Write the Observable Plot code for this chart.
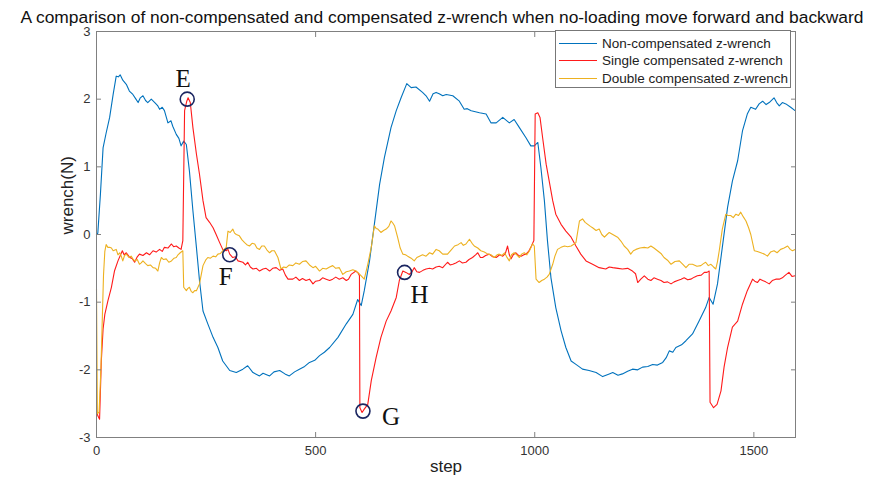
<!DOCTYPE html>
<html>
<head>
<meta charset="utf-8">
<script src="https://cdn.jsdelivr.net/npm/d3@7"></script>
<script src="https://cdn.jsdelivr.net/npm/@observablehq/plot@0.6"></script>
<style>
  body { margin: 0; background: #fff; }
  #wrap { position: relative; width: 876px; height: 481px; font-family: "Liberation Sans", Arial, sans-serif; }
  #legend { position: absolute; left: 555px; top: 30px; width: 236px; height: 58px; border: 1px solid #777; background: #fff; box-sizing: border-box; font-size: 13.5px; color: #222; }
  .row { position: absolute; left: 3px; height: 16px; display: flex; align-items: center; }
  .row span.sw { display: inline-block; width: 38px; height: 0; border-top: 1px solid; margin-right: 5px; }
</style>
</head>
<body>
<div id="wrap"><div id="legend"></div></div>
<script>
const titleText = "A comparison of non-compensated and compensated z-wrench when no-loading move forward and backward";
const xLabel = "step";
const yLabel = "wrench(N)";
const xTicks = [0, 500, 1000, 1500];
const yTicks = [-3, -2, -1, 0, 1, 2, 3];
const seriesNames = ["Non-compensated z-wrench", "Single compensated z-wrench", "Double compensated z-wrench"];
const seriesColors = ["#0072BD", "#FF1A1A", "#EDB120"];

const nonCompStep = [0,3,9,15,22,30,38,45,50,54,60,68,75,83,90,95,100,106,112,117,125,133,140,144,150,155,163,170,174,182,188,193,199,205,212,220,228,235,243,254,266,277,288,304,319,334,345,357,372,380,395,405,418,430,440,452,463,475,486,498,509,520,532,551,570,585,596,604,611,623,634,646,657,672,684,695,708,718,729,744,752,760,768,775,782,790,798,813,828,839,846,855,874,889,900,912,927,942,953,965,980,991,999,1007,1014,1022,1029,1037,1048,1060,1071,1083,1094,1109,1124,1140,1155,1170,1178,1190,1200,1212,1223,1235,1246,1258,1269,1280,1292,1300,1307,1315,1322,1335,1345,1360,1375,1390,1398,1407,1417,1428,1440,1451,1463,1474,1485,1493,1504,1512,1520,1528,1535,1546,1552,1558,1565,1573,1584,1594];
const nonCompWrench = [0,0.02,0.6,1.28,1.5,1.73,2.07,2.34,2.33,2.36,2.28,2.22,2.12,2.07,2.0,1.95,2.02,2.05,1.98,1.95,2.0,1.95,1.9,1.85,1.88,1.83,1.65,1.68,1.6,1.48,1.42,1.31,1.38,1.33,0.94,0.35,-0.19,-0.68,-1.13,-1.32,-1.52,-1.67,-1.87,-2.01,-2.04,-1.99,-1.94,-2.04,-2.09,-2.05,-2.09,-2.03,-2.01,-2.06,-2.09,-2.03,-1.99,-1.95,-1.89,-1.86,-1.79,-1.74,-1.67,-1.52,-1.32,-1.18,-0.96,-1.05,-0.83,-0.39,0.15,0.74,1.14,1.58,1.83,2.02,2.23,2.17,2.18,2.10,2.05,1.97,2.08,2.10,2.08,2.05,2.07,2.05,1.97,1.85,1.86,1.83,1.80,1.78,1.65,1.65,1.73,1.65,1.70,1.58,1.43,1.31,1.31,1.36,0.99,0.50,-0.09,-0.64,-1.08,-1.42,-1.67,-1.87,-1.92,-1.99,-2.01,-2.04,-2.10,-2.06,-2.04,-2.08,-2.06,-2.02,-1.99,-2.0,-1.96,-1.95,-1.92,-1.93,-1.89,-1.82,-1.72,-1.74,-1.67,-1.63,-1.57,-1.47,-1.28,-1.08,-0.93,-1.03,-0.73,-0.19,0.40,0.79,1.09,1.53,1.78,1.88,1.85,1.93,1.97,1.92,1.95,2.02,1.95,1.90,1.95,1.93,1.88,1.83];

const singleStep = [0,3,7,11,15,19,26,34,41,49,55,59,63,68,76,82,87,93,98,106,114,121,129,136,144,150,155,163,171,176,182,188,193,197,201,206,209,214,220,228,235,243,250,258,266,273,281,288,296,300,304,311,317,323,334,340,345,351,357,365,372,380,387,395,402,410,418,425,431,437,448,455,463,470,478,486,494,500,509,516,524,532,539,546,554,562,570,575,581,592,597,600,601,606,611,619,627,638,649,661,672,684,691,699,706,714,720,725,731,737,745,752,760,767,775,782,790,801,807,813,820,828,835,843,850,858,865,870,876,881,888,896,904,912,920,927,933,938,942,946,951,957,963,969,975,980,986,991,998,1001,1007,1012,1018,1026,1033,1041,1048,1060,1071,1083,1094,1105,1117,1132,1147,1162,1170,1178,1190,1200,1212,1223,1230,1235,1242,1250,1258,1265,1272,1280,1288,1295,1303,1311,1318,1326,1334,1341,1349,1356,1364,1371,1380,1387,1393,1398,1400,1408,1416,1425,1432,1440,1451,1463,1474,1485,1497,1502,1508,1514,1520,1527,1535,1542,1550,1558,1565,1572,1580,1587,1594];
const singleWrench = [-2.6,-2.68,-2.73,-1.87,-1.4,-1.18,-0.98,-0.78,-0.54,-0.39,-0.3,-0.24,-0.3,-0.27,-0.34,-0.36,-0.41,-0.33,-0.29,-0.31,-0.27,-0.3,-0.24,-0.26,-0.22,-0.25,-0.19,-0.2,-0.14,-0.18,-0.17,-0.2,-0.22,-0.09,1.83,1.97,2.02,1.95,1.58,1.19,0.89,0.50,0.25,0.18,0.10,0.00,-0.12,-0.22,-0.24,-0.22,-0.29,-0.34,-0.33,-0.39,-0.41,-0.45,-0.41,-0.48,-0.51,-0.5,-0.54,-0.51,-0.50,-0.54,-0.50,-0.49,-0.53,-0.51,-0.6,-0.66,-0.66,-0.63,-0.68,-0.65,-0.68,-0.66,-0.73,-0.69,-0.68,-0.64,-0.66,-0.68,-0.66,-0.63,-0.66,-0.64,-0.68,-0.66,-0.59,-0.54,-0.57,-0.61,-2.56,-2.63,-2.58,-2.51,-2.16,-1.82,-1.52,-1.28,-1.13,-0.93,-0.68,-0.54,-0.56,-0.59,-0.55,-0.49,-0.55,-0.56,-0.53,-0.51,-0.5,-0.51,-0.48,-0.47,-0.49,-0.41,-0.45,-0.44,-0.42,-0.39,-0.42,-0.41,-0.37,-0.34,-0.3,-0.27,-0.34,-0.34,-0.31,-0.29,-0.33,-0.34,-0.3,-0.32,-0.28,-0.17,-0.3,-0.36,-0.3,-0.27,-0.31,-0.32,-0.3,-0.29,-0.25,-0.19,-0.09,1.78,1.80,1.73,1.43,1.04,0.79,0.50,0.30,0.15,0.05,-0.04,-0.17,-0.29,-0.39,-0.44,-0.49,-0.51,-0.48,-0.49,-0.5,-0.51,-0.5,-0.54,-0.58,-0.71,-0.66,-0.61,-0.66,-0.68,-0.64,-0.66,-0.68,-0.71,-0.7,-0.73,-0.7,-0.68,-0.66,-0.64,-0.67,-0.66,-0.63,-0.61,-0.6,-0.56,-0.56,-0.54,-2.48,-2.56,-2.51,-2.31,-1.96,-1.67,-1.37,-1.28,-1.03,-0.83,-0.66,-0.69,-0.71,-0.66,-0.68,-0.7,-0.73,-0.68,-0.66,-0.66,-0.64,-0.6,-0.56,-0.62,-0.61];

const doubleStep = [0,2,6,10,13,16,19,22,26,30,34,38,45,49,53,57,60,64,68,74,79,83,87,93,98,102,106,112,117,123,129,135,140,144,148,153,159,165,171,177,182,186,191,197,199,205,208,212,216,220,224,228,235,243,249,254,260,266,272,277,283,288,296,300,305,311,315,319,326,332,338,343,349,355,361,366,372,377,383,389,395,400,406,414,421,427,433,440,448,455,463,470,478,486,494,500,509,516,524,532,539,546,554,562,570,577,585,592,598,604,611,619,627,634,638,642,649,655,661,667,672,676,680,687,693,699,705,710,718,725,731,737,744,752,760,767,775,782,790,801,809,817,825,832,837,843,851,857,862,870,877,885,893,900,908,914,919,925,931,936,942,947,953,959,965,970,976,982,988,995,999,1003,1010,1016,1022,1028,1033,1041,1046,1052,1060,1068,1075,1083,1090,1094,1102,1109,1115,1121,1127,1132,1140,1147,1153,1159,1165,1170,1178,1189,1197,1204,1212,1219,1225,1231,1240,1250,1258,1265,1272,1280,1288,1295,1303,1311,1320,1330,1338,1345,1352,1360,1370,1379,1385,1390,1396,1402,1408,1413,1417,1421,1428,1436,1441,1447,1453,1459,1465,1470,1476,1482,1488,1493,1501,1508,1516,1524,1531,1538,1546,1553,1561,1569,1577,1583,1588,1594];
const doubleWrench = [-0.8,-2.65,-2.62,-2.0,-1.3,-0.6,-0.25,-0.15,-0.19,-0.19,-0.2,-0.24,-0.22,-0.3,-0.27,-0.33,-0.39,-0.31,-0.29,-0.34,-0.32,-0.36,-0.39,-0.37,-0.44,-0.42,-0.39,-0.43,-0.46,-0.45,-0.49,-0.5,-0.54,-0.42,-0.34,-0.37,-0.36,-0.41,-0.39,-0.35,-0.34,-0.3,-0.27,-0.24,-0.78,-0.83,-0.8,-0.78,-0.84,-0.86,-0.83,-0.83,-0.73,-0.46,-0.38,-0.34,-0.35,-0.32,-0.33,-0.29,-0.28,-0.24,-0.19,0.05,0.03,0.08,0.02,0.0,-0.02,-0.08,-0.12,-0.15,-0.17,-0.13,-0.14,-0.2,-0.22,-0.17,-0.17,-0.23,-0.27,-0.24,-0.24,-0.34,-0.51,-0.48,-0.49,-0.45,-0.46,-0.42,-0.44,-0.4,-0.39,-0.45,-0.49,-0.47,-0.54,-0.5,-0.51,-0.48,-0.46,-0.5,-0.49,-0.59,-0.55,-0.54,-0.52,-0.54,-0.57,-0.61,-0.66,-0.44,-0.19,0.13,0.09,0.08,0.03,0.06,0.08,0.12,0.20,0.17,0.13,-0.04,-0.2,-0.29,-0.3,-0.32,-0.35,-0.39,-0.34,-0.32,-0.3,-0.32,-0.27,-0.29,-0.22,-0.24,-0.29,-0.29,-0.23,-0.17,-0.15,-0.12,-0.16,-0.14,-0.07,-0.13,-0.17,-0.2,-0.24,-0.26,-0.29,-0.3,-0.34,-0.3,-0.29,-0.31,-0.27,-0.33,-0.39,-0.3,-0.27,-0.3,-0.34,-0.29,-0.27,-0.3,-0.24,-0.14,-0.17,-0.66,-0.71,-0.68,-0.66,-0.63,-0.59,-0.44,-0.32,-0.22,-0.19,-0.17,-0.18,-0.17,-0.14,-0.12,0.20,0.23,0.18,0.15,0.12,0.10,0.06,0.08,0.0,-0.04,0.0,0.03,0.0,-0.04,-0.1,-0.17,-0.22,-0.29,-0.24,-0.22,-0.2,-0.19,-0.2,-0.17,-0.2,-0.24,-0.28,-0.34,-0.38,-0.44,-0.4,-0.39,-0.44,-0.49,-0.44,-0.44,-0.47,-0.46,-0.43,-0.41,-0.46,-0.44,-0.48,-0.51,-0.4,-0.24,0.08,0.30,0.28,0.28,0.25,0.30,0.28,0.33,0.26,0.20,0.1,0.0,-0.24,-0.25,-0.27,-0.29,-0.32,-0.26,-0.24,-0.27,-0.22,-0.2,-0.17,-0.22,-0.24,-0.22];

const markLabels = ["E", "F", "G", "H"];
const markStep = [207, 304, 608, 703];
const markWrench = [2.0, -0.30, -2.61, -0.56];
const markDx = [-4, -4, 28, 15];
const markDy = [-20, 22, 6, 23];

const toRows = (xs, ys) => xs.map((s, i) => ({step: s, value: ys[i]}));
const nonComp = toRows(nonCompStep, nonCompWrench);
const single = toRows(singleStep, singleWrench);
const dbl = toRows(doubleStep, doubleWrench);
const marks = markLabels.map((t, i) => ({label: t, step: markStep[i], value: markWrench[i], dx: markDx[i], dy: markDy[i]}));
const plain = d => String(d);

const chart = Plot.plot({
  width: 876,
  height: 481,
  marginLeft: 96,
  marginRight: 81,
  marginTop: 31,
  marginBottom: 44,
  style: {fontFamily: "Liberation Sans, Arial, sans-serif", fontSize: "13px", background: "#fff"},
  x: {domain: [0, 1595]},
  y: {domain: [-3, 3]},
  marks: [
    Plot.line(nonComp, {x: "step", y: "value", stroke: seriesColors[0], strokeWidth: 1.1}),
    Plot.line(single, {x: "step", y: "value", stroke: seriesColors[1], strokeWidth: 1.1}),
    Plot.line(dbl, {x: "step", y: "value", stroke: seriesColors[2], strokeWidth: 1.1}),
    Plot.frame({stroke: "#808080"}),
    Plot.axisX(xTicks, {anchor: "bottom", tickSize: -5, tickPadding: 13, tickFormat: plain, label: null, color: "#333", stroke: "#808080"}),
    Plot.axisX(xTicks, {anchor: "top", tickSize: -5, tickFormat: () => "", label: null, stroke: "#808080"}),
    Plot.axisY(yTicks, {anchor: "left", tickSize: -5, tickPadding: 11, tickFormat: plain, label: null, color: "#333", stroke: "#808080"}),
    Plot.axisY(yTicks, {anchor: "right", tickSize: -5, tickFormat: () => "", label: null, stroke: "#808080"}),
    Plot.dot(marks, {x: "step", y: "value", r: 7, stroke: "#1a2560", strokeWidth: 1.6, fill: "none"}),
    ...marks.map(m => Plot.text([m], {x: "step", y: "value", text: "label", dx: m.dx, dy: m.dy, fontFamily: "Liberation Serif, Times New Roman, serif", fontSize: 25, fill: "#111"})),
    Plot.text([titleText], {frameAnchor: "top", dy: -21, dx: -4, fontSize: 17.4, fill: "#111"}),
    Plot.text([xLabel], {frameAnchor: "bottom", dy: 34, fontSize: 17, fill: "#222"}),
    Plot.text([yLabel], {frameAnchor: "left", dx: -29, rotate: -90, fontSize: 17, fill: "#222"})
  ]
});
document.getElementById("wrap").prepend(chart);

const legend = document.getElementById("legend");
seriesNames.forEach((name, i) => {
  const row = document.createElement("div");
  row.className = "row";
  row.style.top = (4 + i * 17.5) + "px";
  const sw = document.createElement("span");
  sw.className = "sw";
  sw.style.borderColor = seriesColors[i];
  row.appendChild(sw);
  const t = document.createElement("span");
  t.textContent = name;
  row.appendChild(t);
  legend.appendChild(row);
});
</script>
</body>
</html>
